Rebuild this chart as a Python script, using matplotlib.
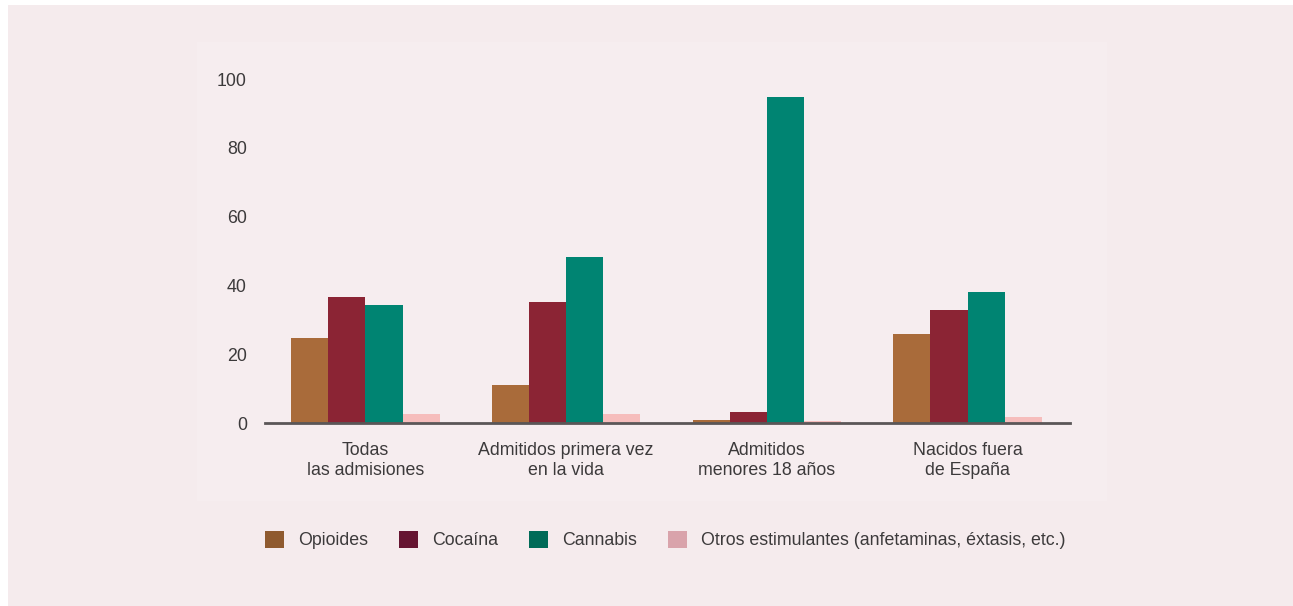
import matplotlib.pyplot as plt
from matplotlib.patches import Rectangle, Patch
import numpy as np

plt.rcParams['font.family'] = ['Liberation Sans', 'DejaVu Sans']

categorias = ['Todas\nlas admisiones', 'Admitidos primera vez\nen la vida',
              'Admitidos\nmenores 18 años', 'Nacidos fuera\nde España']
series = ['Opioides', 'Cocaína', 'Cannabis', 'Otros estimulantes (anfetaminas, éxtasis, etc.)']
opioides = [24.7, 11.0, 0.9, 25.9]
cocaina = [36.6, 35.2, 3.2, 32.8]
cannabis = [34.3, 48.3, 94.8, 38.1]
otros = [2.6, 2.6, 0.6, 1.7]
yticks = [0, 20, 40, 60, 80, 100]

bar_colors = ['#a96b3a', '#8b2434', '#008472', '#f6bdbc']
legend_colors = ['#8f5a2f', '#661532', '#006b58', '#d9a3ab']
txt = '#3c3a3b'
fs = 12.8

W, H = 1293, 606
fig = plt.figure(figsize=(W / 100, H / 100), dpi=100)
fig.patch.set_facecolor('white')
fig.patches.append(Rectangle((8 / W, 0), 1 - 8 / W, 1 - 5 / H, transform=fig.transFigure,
                             facecolor='#f5ebed', edgecolor='none', zorder=-10))
fig.patches.append(Rectangle((197 / W, 1 - 501 / H), 910 / W, 459 / H, transform=fig.transFigure,
                             facecolor='#f6edef', edgecolor='none', zorder=-9))

ax = fig.add_axes([265 / W, (H - 423) / H, 805 / W, 344 / H])
ax.set_facecolor('none')

x = np.arange(len(categorias))
w = 0.185
datos = [opioides, cocaina, cannabis, otros]
for i, vals in enumerate(datos):
    ax.bar(x + (i - 1.5) * w, vals, w, color=bar_colors[i], edgecolor='none', zorder=2)

ax.set_xlim(-0.5, 3.51)
ax.set_ylim(0, 100)
ax.set_yticks(yticks)
ax.set_xticks(x)
ax.set_xticklabels(categorias, fontsize=fs, color=txt, linespacing=1.2)
ax.tick_params(axis='both', length=0, colors=txt, labelsize=fs)
ax.tick_params(axis='x', pad=14)
ax.tick_params(axis='y', pad=13)
for s in ['top', 'right', 'left']:
    ax.spines[s].set_visible(False)
ax.spines['bottom'].set_color('#5a5657')
ax.spines['bottom'].set_linewidth(2)
ax.spines['bottom'].set_zorder(3)

handles = [Patch(facecolor=c, edgecolor='none') for c in legend_colors]
fig.legend(handles, series, loc='center', bbox_to_anchor=(665 / W, 1 - 540 / H), ncol=4,
           frameon=False, fontsize=fs, labelcolor=txt, handlelength=1.1, handleheight=1.1,
           handletextpad=0.75, columnspacing=1.75)

fig.savefig('out.png', dpi=100, facecolor=fig.get_facecolor())
